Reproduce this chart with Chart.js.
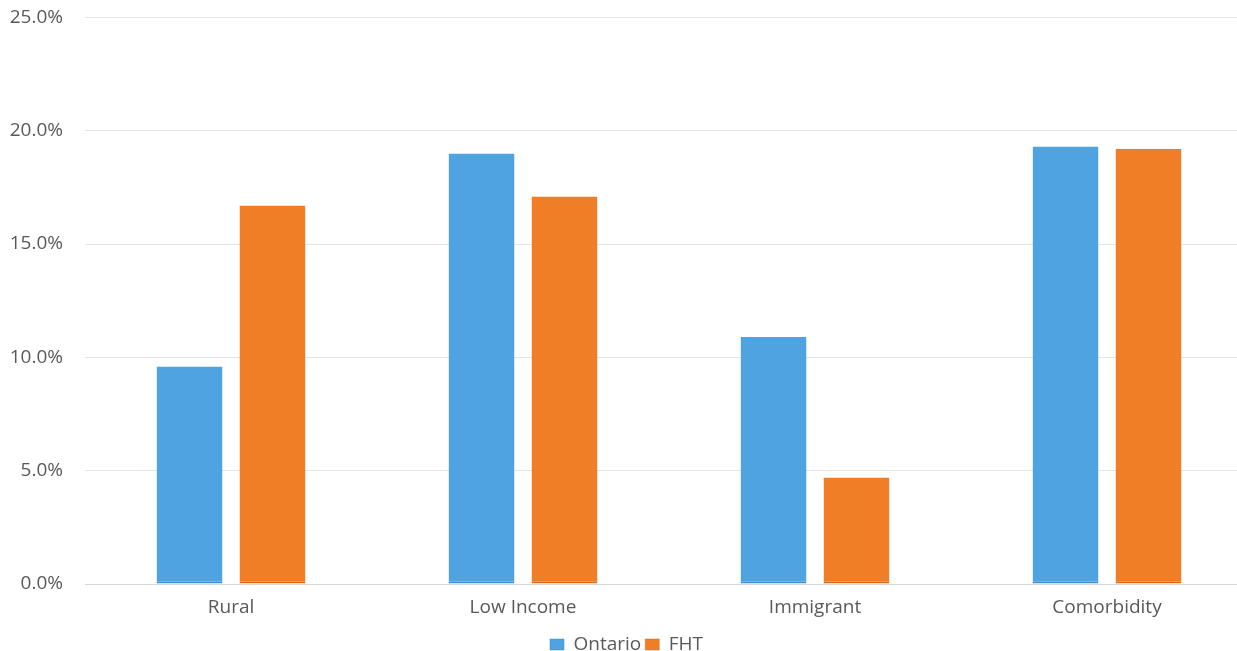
<!DOCTYPE html>
<html><head><meta charset="utf-8">
<script src="https://cdn.jsdelivr.net/npm/chart.js@4/dist/chart.umd.min.js"></script>
<style>html,body{margin:0;padding:0;background:#fff;overflow:hidden}#wrap{width:1237px;height:651px;overflow:hidden}</style>
</head><body><div id="wrap"><canvas id="c" width="1253" height="651"></canvas></div>
<script>
const categories = ["Rural", "Low Income", "Immigrant", "Comorbidity"];
const ontario = [9.6, 19.0, 10.9, 19.3];
const fht = [16.7, 17.1, 4.7, 19.2];
const seriesNames = ["Ontario", "FHT"];

const FONT = { family: 'Open Sans', size: 19 };
new Chart(document.getElementById('c'), {
  type: 'bar',
  data: {
    labels: categories,
    datasets: [
      { label: seriesNames[0], data: ontario, backgroundColor: '#4FA3E0', borderColor: '#3a8fd2', borderWidth: {bottom: 2, top: 0, left: 0, right: 0}, borderSkipped: false, categoryPercentage: 0.568, barPercentage: 0.795 },
      { label: seriesNames[1], data: fht, backgroundColor: '#F07E26', borderColor: '#de6b14', borderWidth: {bottom: 2, top: 0, left: 0, right: 0}, borderSkipped: false, categoryPercentage: 0.568, barPercentage: 0.795 }
    ]
  },
  options: {
    responsive: false,
    animation: false,
    devicePixelRatio: 1,
    layout: { padding: { top: 0, right: 0, left: 0, bottom: -13 } },
    plugins: {
      tooltip: { enabled: false },
      legend: {
        position: 'bottom',
        labels: { boxWidth: 14, boxHeight: 11, padding: 4, color: '#595959', font: FONT }
      }
    },
    scales: {
      x: {
        afterFit: (s) => { s.height = 47; },
        grid: { display: false, drawTicks: false },
        border: { color: '#d6d6d6', width: 1 },
        ticks: { color: '#595959', font: FONT, padding: 12 }
      },
      y: {
        min: 0, max: 25,
        afterFit: (s) => { s.width = 85; },
        grid: { color: '#e3e3e3', lineWidth: 1, drawTicks: true, tickLength: 16, tickColor: 'rgba(0,0,0,0)' },
        border: { display: false },
        ticks: { stepSize: 5, color: '#595959', padding: 6, font: FONT, callback: v => v.toFixed(1) + '%' }
      }
    }
  }
});
</script></body></html>
